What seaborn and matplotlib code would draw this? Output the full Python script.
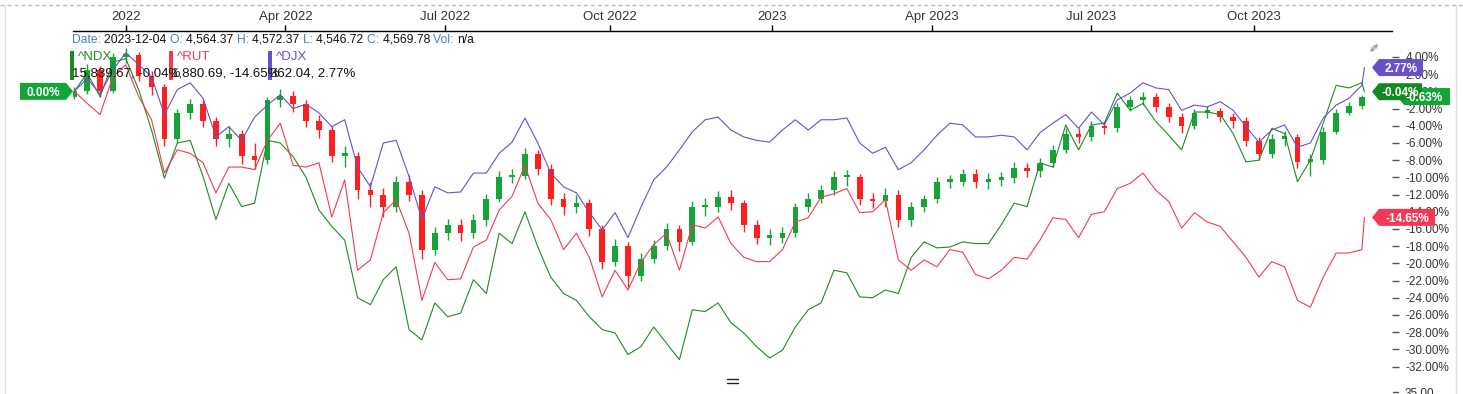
import numpy as np
import pandas as pd
import matplotlib.pyplot as plt
import matplotlib.transforms as mtransforms
from matplotlib.patches import Polygon, Rectangle, FancyArrowPatch
from matplotlib.lines import Line2D
import seaborn as sns

# % change since the first bar, sampled every 5th trading day (last value = 2023-12-04)
ndx = [0, 2.1, -0.6, 3.4, 3.8, 0.2, -4.5, -10.1, -6.0, -5.7,
       -9.9, -14.9, -10.7, -13.4, -13.0, -5.7, -6.0, -7.6, -10.0, -13.8,
       -15.7, -17.3, -24.0, -24.8, -21.9, -20.4, -27.7, -28.9, -24.6, -26.2,
       -25.8, -21.9, -23.5, -16.5, -17.7, -14.0, -18.1, -21.6, -23.5, -24.3,
       -26.2, -27.7, -28.1, -30.6, -29.7, -27.4, -29.3, -31.2, -25.4, -25.6,
       -24.6, -26.9, -28.1, -29.7, -31.0, -30.1, -27.4, -25.4, -24.6, -20.8,
       -21.1, -23.9, -24.0, -23.1, -23.5, -19.3, -17.5, -18.2, -18.1, -17.5,
       -17.7, -17.7, -15.5, -13.0, -13.4, -8.3, -8.8, -3.9, -6.8, -3.9,
       -3.7, -0.2, -2.2, -1.4, -3.5, -5.1, -6.8, -2.4, -2.4, -2.7,
       -4.9, -8.2, -8.0, -4.3, -4.9, -10.5, -8.0, -3.7, 0.7, 0.4,
       1.0, -0.04]
rut = [0, -1.4, -2.7, 1.7, 3.1, -0.6, -3.3, -9.5, -6.8, -7.2,
       -8.3, -11.8, -8.8, -8.8, -9.1, -5.7, -3.7, -8.6, -8.8, -8.3,
       -14.6, -10.3, -20.8, -19.6, -14.1, -12.6, -16.5, -24.3, -19.9, -21.9,
       -21.8, -18.1, -17.3, -13.8, -12.2, -8.6, -13.0, -14.9, -18.4, -16.5,
       -19.3, -23.9, -20.8, -23.1, -19.9, -17.8, -16.5, -20.8, -15.5, -15.9,
       -14.6, -17.7, -19.3, -19.8, -19.8, -18.4, -15.2, -14.7, -12.3, -11.9,
       -11.3, -14.1, -14.0, -12.6, -19.6, -20.8, -19.6, -20.4, -18.4, -18.7,
       -21.3, -21.8, -20.8, -19.3, -19.5, -17.3, -14.7, -14.9, -17.0, -14.3,
       -14.0, -11.3, -10.7, -9.5, -11.5, -12.8, -15.9, -14.1, -15.2, -15.7,
       -17.5, -19.3, -21.6, -19.8, -20.4, -24.3, -25.1, -21.6, -18.8, -18.8,
       -18.4, -14.65]
djx = [0, 1.5, -0.3, 2.5, 4.5, 3.1, 1.7, -2.7, 0.2, 1.0,
       -0.8, -5.3, -4.1, -5.7, -3.0, -1.6, -0.4, -2.0, -1.5, -2.5,
       -4.1, -3.3, -8.8, -11.1, -6.0, -5.7, -9.9, -14.9, -11.1, -11.8,
       -11.7, -9.5, -9.5, -7.2, -5.9, -3.1, -6.0, -9.5, -11.1, -11.8,
       -14.1, -16.1, -14.1, -17.0, -13.5, -10.3, -8.8, -6.8, -4.7, -3.3,
       -3.0, -4.5, -5.3, -5.7, -5.9, -4.5, -3.3, -4.5, -3.3, -3.3,
       -3.1, -6.0, -7.2, -6.5, -9.1, -8.3, -6.8, -5.1, -3.7, -3.9,
       -5.3, -5.3, -5.1, -5.3, -6.8, -4.8, -3.7, -2.7, -4.3, -2.4,
       -3.9, -1.0, -0.2, 1.0, 0.4, 0.2, -2.2, -1.6, -1.8, -1.2,
       -2.2, -4.1, -5.9, -4.5, -3.9, -6.5, -6.0, -3.1, -1.6, -0.8,
       0.7, 2.77]

# main series, weekly candles
spx_close = [0, 2.5, 0.0, 4.0, 4.2, 1.8, 0.5, -5.5, -2.5, -1.5,
             -3.5, -5.5, -5.0, -7.5, -8.0, -1.0, -0.5, -1.5, -3.5, -4.5,
             -7.5, -7.5, -11.5, -12.0, -13.5, -10.5, -12.0, -18.5, -16.5, -15.5,
             -16.5, -15.0, -12.5, -10.0, -9.8, -7.3, -9.0, -12.5, -13.5, -13.0,
             -16.0, -19.8, -18.0, -21.5, -19.5, -18.0, -16.0, -17.5, -13.5, -13.5,
             -12.3, -13.0, -15.5, -17.0, -17.0, -16.5, -13.5, -12.5, -11.5, -10.0,
             -10.0, -12.5, -12.8, -12.0, -15.0, -13.5, -12.5, -10.5, -10.5, -9.6,
             -10.5, -10.3, -10.1, -8.9, -9.3, -8.3, -6.8, -4.9, -5.3, -4.0,
             -4.3, -1.8, -1.0, -0.6, -1.8, -3.0, -4.0, -2.5, -2.3, -3.0,
             -3.5, -5.8, -7.3, -5.5, -5.3, -8.2, -8.0, -4.7, -2.5, -1.7,
             -0.6]
spx_high = [0.5, 3.2, 2.9, 4.5, 5.0, 4.6, 2.4, 0.9, -2.0, -0.9,
            -1.0, -3.0, -4.0, -4.5, -6.0, -0.6, 0.3, 0.0, -1.0, -2.8,
            -4.0, -6.3, -7.0, -10.5, -11.2, -9.8, -9.7, -11.5, -15.8, -14.8,
            -14.8, -14.3, -11.9, -9.3, -9.0, -6.6, -6.8, -8.5, -11.8, -12.0,
            -12.5, -15.5, -17.2, -17.5, -18.8, -17.3, -15.3, -15.5, -12.8, -12.4,
            -11.6, -11.5, -12.6, -15.0, -16.0, -15.8, -13.0, -11.8, -10.9, -9.3,
            -9.2, -9.6, -11.8, -11.2, -11.5, -12.9, -12.0, -10.0, -9.7, -9.0,
            -9.0, -9.5, -9.4, -8.2, -8.3, -7.7, -6.2, -4.3, -4.3, -3.5,
            -3.4, -1.3, -0.5, -0.1, -0.2, -1.4, -2.5, -2.0, -1.7, -1.9,
            -2.5, -3.0, -5.3, -5.0, -4.6, -4.9, -7.3, -4.2, -2.0, -1.2,
            -0.4]
spx_low = [-0.9, -0.3, -0.6, -0.2, 3.3, 1.2, -0.4, -6.3, -6.0, -3.2,
           -4.2, -6.4, -6.5, -8.4, -9.0, -8.5, -1.8, -2.4, -4.2, -5.4,
           -8.2, -8.8, -12.5, -13.5, -14.6, -14.0, -12.8, -19.5, -19.0, -17.3,
           -17.4, -17.0, -15.6, -12.9, -10.7, -10.2, -9.7, -13.2, -14.4, -14.2,
           -16.8, -20.6, -20.3, -22.8, -22.0, -20.0, -18.5, -18.6, -17.9, -14.5,
           -14.0, -13.8, -16.3, -17.8, -17.9, -17.6, -16.9, -14.0, -13.0, -12.0,
           -11.0, -13.2, -13.6, -13.5, -15.8, -15.6, -14.0, -13.0, -11.2, -11.0,
           -11.2, -11.3, -11.0, -10.6, -10.0, -9.9, -8.8, -7.2, -6.0, -5.8,
           -5.0, -4.7, -2.3, -1.6, -2.4, -3.6, -4.8, -4.4, -3.1, -3.6,
           -4.3, -6.4, -8.0, -7.8, -6.3, -8.9, -9.8, -8.4, -5.0, -2.8,
           -2.0]
spx_open = [-0.6] + spx_close[:-1]

candle_day = list(range(0, 505, 5))
line_day = candle_day + [501]

quarter_day = [20, 82, 144, 208, 271, 333, 395, 458]
quarter_lbl = ["2022", "Apr 2022", "Jul 2022", "Oct 2022",
               "2023", "Apr 2023", "Jul 2023", "Oct 2023"]
y_ticks = list(range(4, -33, -2))

C_NDX, C_RUT, C_DJX = "#1f8a24", "#f23a55", "#6a50c8"
C_UP, C_DOWN = "#17a338", "#ff1f1f"

sns.set_theme(style="white")
plt.rcParams['font.family'] = ['Liberation Sans', 'DejaVu Sans']

W, H = 1463, 394
fig = plt.figure(figsize=(W / 100, H / 100), dpi=100)
fig.patch.set_facecolor("white")
ax = fig.add_axes([73 / W, 1 - 378 / H, (1392 - 73) / W, (378 - 31) / H])
ax.set_xlim(-0.5, 511.7)
ax.set_ylim(-33.33, 7.02)

# candles
for d, o, hi, lo, c in zip(candle_day, spx_open, spx_high, spx_low, spx_close):
    col = C_UP if c >= o else C_DOWN
    ax.vlines(d, lo, hi, color=col, lw=1, zorder=3)
    body = max(abs(c - o), 0.3)
    ax.bar(d, body, bottom=min(o, c), width=2.2, color=col, lw=0, zorder=3)

lines = pd.DataFrame({
    "day": line_day * 3,
    "pct": ndx + rut + djx,
    "sym": ["^NDX"] * len(ndx) + ["^RUT"] * len(rut) + ["^DJX"] * len(djx),
})
sns.lineplot(data=lines, x="day", y="pct", hue="sym", estimator=None, sort=False,
             palette={"^NDX": C_NDX, "^RUT": C_RUT, "^DJX": C_DJX},
             linewidth=0.8, legend=False, ax=ax, zorder=4)

# axes styling: dates on top, % on the right
for s in ["left", "right", "bottom"]:
    ax.spines[s].set_visible(False)
ax.spines["top"].set_color("black")
ax.spines["top"].set_linewidth(1)
ax.xaxis.set_ticks_position("top")
ax.set_xticks(quarter_day)
ax.set_xticklabels(quarter_lbl)
ax.tick_params(axis="x", direction="out", length=4, width=1, color="black",
               labelsize=9.5, labelcolor="#333333", pad=2)
ax.yaxis.set_ticks_position("right")
ax.set_yticks(y_ticks)
ax.set_yticklabels([f"{v:.2f}%" for v in y_ticks])
ax.tick_params(axis="y", direction="out", length=5, width=1, color="#555555",
               labelsize=8.5, labelcolor="#333333", pad=5)
ax.set_xlabel("")
ax.set_ylabel("")


def px(x, y):
    return (x / W, 1 - y / H)


# frame lines of the widget
fig.add_artist(Line2D([0, 1], [1 - 4.5 / H] * 2, transform=fig.transFigure,
                      color="#bbbbbb", lw=1, ls=(0, (3, 2))))
fig.add_artist(Line2D([5 / W] * 2, [0, 1 - 4.5 / H], transform=fig.transFigure,
                      color="#dddddd", lw=1))
fig.add_artist(Line2D([1456 / W] * 2, [0, 1 - 4.5 / H], transform=fig.transFigure,
                      color="#dddddd", lw=1))

# OHLC info line
info = [("Date: ", "#4a80c0"), ("2023-12-04 ", "#111111"), ("O: ", "#4a80c0"),
        ("4,564.37 ", "#111111"), ("H: ", "#4a80c0"), ("4,572.37 ", "#111111"),
        ("L: ", "#4a80c0"), ("4,546.72 ", "#111111"), ("C: ", "#4a80c0"),
        ("4,569.78 ", "#111111"), ("Vol: ", "#4a80c0"), ("n/a", "#111111")]
prev = fig.text(*px(72, 40), info[0][0], color=info[0][1], fontsize=8.7, va="center")
for s, c in info[1:]:
    prev = ax.annotate(s, xy=(1, 0), xycoords=prev, va="bottom", ha="left",
                       fontsize=8.7, color=c, annotation_clip=False)

# legend of comparison symbols
for x0, name, val, col in [(70, "^NDX", "15,839.67, -0.04%", C_NDX),
                           (169, "^RUT", "1,880.69, -14.65%", C_RUT),
                           (268, "^DJX", "362.04, 2.77%", C_DJX)]:
    fig.add_artist(Rectangle(px(x0, 80), 4 / W, 29 / H, transform=fig.transFigure,
                             color=col, lw=0))
    fig.text(*px(x0 + 8, 57), name, color=col, fontsize=9.5, va="center")
    fig.text(*px(x0 + 2, 73), val, color="#111111", fontsize=9.5, va="center")

ident = mtransforms.IdentityTransform()


def tag(val, x0, x1, color, text, tx=None, point="left"):
    yc = ax.transData.transform((0, val))[1]
    h = 8.5
    if point == "left":
        pts = [(x0, yc), (x0 + 7, yc + h), (x1, yc + h), (x1, yc - h), (x0 + 7, yc - h)]
        cx = (x0 + 7 + x1) / 2
    else:
        pts = [(x1, yc), (x1 - 7, yc + h), (x0, yc + h), (x0, yc - h), (x1 - 7, yc - h)]
        cx = (x0 + x1 - 7) / 2
    fig.add_artist(Polygon(pts, closed=True, transform=ident, fc=color, ec="none"))
    fig.add_artist(plt.Text(tx if tx else cx, yc, text, transform=ident, color="white",
                            fontsize=8.5, fontweight="bold", ha="center",
                            va="center_baseline"))


tag(0.0, 20, 73, "#13a538", "0.00%", point="right")
tag(spx_close[-1], 1397, 1450, "#13a538", "-0.63%", tx=1424)
tag(djx[-1], 1372, 1423, C_DJX, "2.77%")
tag(ndx[-1], 1372, 1422, "#118a22", "-0.04%")
tag(rut[-1], 1372, 1435, C_RUT, "-14.65%")

# expand icon, pane handle, next pane label
fig.add_artist(FancyArrowPatch(px(1368, 54), px(1380, 42), transform=fig.transFigure,
                               arrowstyle="<->", mutation_scale=6, color="#9a9a9a", lw=0.9))
for yy in (378.5, 382.5):
    fig.add_artist(Line2D([727 / W, 738 / W], [1 - yy / H] * 2,
                          transform=fig.transFigure, color="#222222", lw=1))
fig.add_artist(Line2D([1393 / W, 1398 / W], [1 - 392 / H] * 2,
                      transform=fig.transFigure, color="#555555", lw=1))
fig.text(*px(1405, 388), "35.00", fontsize=8.5, color="#333333", va="top")

fig.savefig("out.png", dpi=100)
